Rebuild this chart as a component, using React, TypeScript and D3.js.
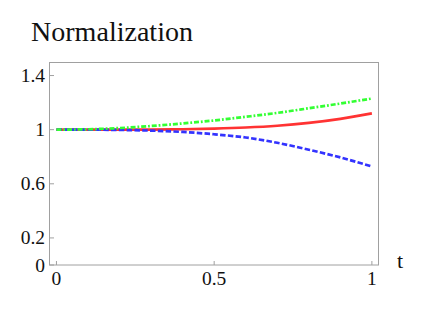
import React from "react";
import * as d3 from "d3";

const tValues = [0, 0.1, 0.2, 0.3, 0.4, 0.5, 0.6, 0.7, 0.8, 0.9, 1.0];
const redSeries = [1, 1.0, 1.0, 1.001, 1.003, 1.008, 1.016, 1.029, 1.05, 1.08, 1.12];
const blueSeries = [1, 1.0, 0.998, 0.993, 0.983, 0.966, 0.942, 0.903, 0.852, 0.795, 0.728];
const greenSeries = [1, 1.003, 1.012, 1.027, 1.046, 1.068, 1.095, 1.124, 1.158, 1.193, 1.23];
const xTicks = [0, 0.5, 1];
const xTickLabels = ["0", "0.5", "1"];
const yTicks = [0, 0.2, 0.6, 1, 1.4];
const yTickLabels = ["0", "0.2", "0.6", "1", "1.4"];
const title = "Normalization";
const xLabel = "t";

const W = 436;
const H = 327;

export default function App() {
  const x = d3.scaleLinear().domain([-0.022, 1.021]).range([49.5, 378.5]);
  const y = d3.scaleLinear().domain([0, 1.5]).range([265, 62]);
  const line = (vals: number[]) =>
    d3
      .line<number>()
      .x((_, i) => x(tValues[i]))
      .y((d) => y(d))
      .curve(d3.curveMonotoneX)(vals) || "";

  const frameColor = "#a0a0a0";
  return (
    <svg
      width={W}
      height={H}
      style={{ position: "absolute", left: 0, top: 0, background: "#fff", fontFamily: "Liberation Serif" }}
    >
      <g style={{ fontFamily: "Liberation Serif" }} fill="#111">
        <text x={31} y={40.5} fontSize={26.5} textLength={162} lengthAdjust="spacingAndGlyphs">
          {title}
        </text>
        {yTicks.map((v, i) => (
          <text key={"yl" + i} x={45} y={y(v) + 6.5} textAnchor="end" fontSize={19.5}>
            {yTickLabels[i]}
          </text>
        ))}
        {xTicks.map((v, i) => (
          <text key={"xl" + i} x={x(v)} y={285} textAnchor="middle" fontSize={19.5}>
            {xTickLabels[i]}
          </text>
        ))}
        <text x={400} y={268} textAnchor="middle" fontSize={22}>
          {xLabel}
        </text>
      </g>
      <rect x={49.5} y={62.5} width={329} height={202.5} fill="none" stroke={frameColor} strokeWidth={1} />
      {yTicks.map((v, i) => (
        <line key={"yt" + i} x1={49.5} x2={54} y1={y(v)} y2={y(v)} stroke={frameColor} strokeWidth={1} />
      ))}
      {xTicks.map((v, i) => (
        <line key={"xt" + i} x1={x(v)} x2={x(v)} y1={265} y2={261} stroke={frameColor} strokeWidth={1} />
      ))}
      <path d={line(redSeries)} fill="none" stroke="#ff3333" strokeWidth={2.7} />
      <path d={line(blueSeries)} fill="none" stroke="#3333ff" strokeWidth={2.7} strokeDasharray="5.5,2.3" />
      <path d={line(greenSeries)} fill="none" stroke="#33ff33" strokeWidth={2.7} strokeDasharray="5,1.9,1.8,1.9" />
    </svg>
  );
}
